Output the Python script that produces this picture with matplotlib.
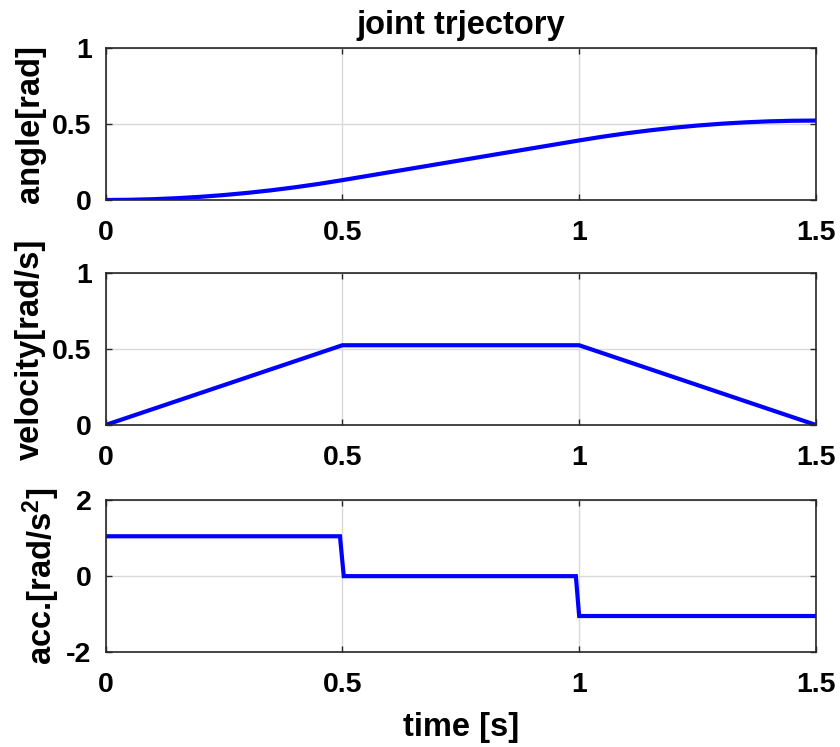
import matplotlib
matplotlib.use("Agg")
import matplotlib.pyplot as plt

# ---- data ----
t_angle = [0.0, 0.05, 0.1, 0.15, 0.2, 0.25, 0.3, 0.35, 0.4, 0.45, 0.5,
           0.6, 0.7, 0.8, 0.9, 1.0, 1.05, 1.1, 1.15, 1.2, 1.25, 1.3,
           1.35, 1.4, 1.45, 1.5]
angle = [0.0, 0.0013, 0.0052, 0.0118, 0.0209, 0.0327, 0.0471, 0.0641,
         0.0838, 0.1060, 0.1309, 0.1833, 0.2356, 0.2880, 0.3403, 0.3927,
         0.4176, 0.4398, 0.4594, 0.4765, 0.4909, 0.5027, 0.5118, 0.5184,
         0.5223, 0.5236]

t_vel = [0.0, 0.5, 1.0, 1.5]
velocity = [0.0, 0.5236, 0.5236, 0.0]

t_acc = [0.0, 0.495, 0.503, 0.993, 1.0, 1.5]
acc = [1.0472, 1.0472, 0.0, 0.0, -1.0472, -1.0472]

x_ticks = [0, 0.5, 1, 1.5]
x_ticklabels = ["0", "0.5", "1", "1.5"]
angle_ticks = [0, 0.5, 1]
angle_ticklabels = ["0", "0.5", "1"]
vel_ticks = [0, 0.5, 1]
vel_ticklabels = ["0", "0.5", "1"]
acc_ticks = [-2, 0, 2]
acc_ticklabels = ["-2", "0", "2"]

title = "joint trjectory"
xlabel = "time [s]"
ylabels = ["angle[rad]", "velocity[rad/s]", r"acc.[rad/s$^{\mathbf{2}}$]"]

# ---- style ----
plt.rcParams['font.family'] = ['Liberation Sans', 'DejaVu Sans']
plt.rcParams['font.weight'] = 'bold'
plt.rcParams['mathtext.fontset'] = 'custom'
plt.rcParams['mathtext.bf'] = 'Liberation Sans:bold'
plt.rcParams['mathtext.rm'] = 'Liberation Sans:bold'
plt.rcParams['mathtext.default'] = 'bf'

FS_TICK = 20.5
FS_LAB = 23.5
fig = plt.figure(figsize=(8.4, 7.47), dpi=100)

left = 105.5 / 840
width = (816 - 105.5) / 840
rects = [
    (left, 1 - 200.0 / 747, width, 151.7 / 747),
    (left, 1 - 425.0 / 747, width, 152.3 / 747),
    (left, 1 - 652.3 / 747, width, 152.3 / 747),
]

series = [(t_angle, angle, angle_ticks, angle_ticklabels, (0, 1)),
          (t_vel, velocity, vel_ticks, vel_ticklabels, (0, 1)),
          (t_acc, acc, acc_ticks, acc_ticklabels, (-2, 2))]
label_x = [-0.084, -0.084, -0.061]

axes = []
for i, (rect, (tx, y, yt, ytl, ylim)) in enumerate(zip(rects, series)):
    ax = fig.add_axes(rect)
    ax.plot(tx, y, color=(0, 0, 1), linewidth=3.0, solid_joinstyle='miter')
    ax.set_xlim(0, 1.5)
    ax.set_ylim(*ylim)
    ax.set_xticks(x_ticks)
    ax.set_xticklabels(x_ticklabels)
    ax.set_yticks(yt)
    ax.set_yticklabels(ytl)
    ax.grid(True, color='#d9d9d9', linewidth=1.0)
    ax.set_axisbelow(True)
    ax.tick_params(direction='in', length=4, width=1.0, top=True, right=True,
                   labelsize=FS_TICK, colors='#262626')
    ax.tick_params(axis='x', pad=14.5)
    ax.tick_params(axis='y', pad=10)
    for lab in ax.get_xticklabels() + ax.get_yticklabels():
        lab.set_fontweight('bold')
        lab.set_color('black')
    for s in ax.spines.values():
        s.set_linewidth(1.2)
        s.set_color('#262626')
    ax.set_ylabel(ylabels[i], fontsize=FS_LAB, fontweight='bold')
    ax.yaxis.set_label_coords(label_x[i], 0.5)
    axes.append(ax)

axes[0].set_title(title, fontsize=FS_LAB, fontweight='bold', pad=10)
axes[2].set_xlabel(xlabel, fontsize=FS_LAB, fontweight='bold', labelpad=10)

fig.savefig("out.png", dpi=100)
